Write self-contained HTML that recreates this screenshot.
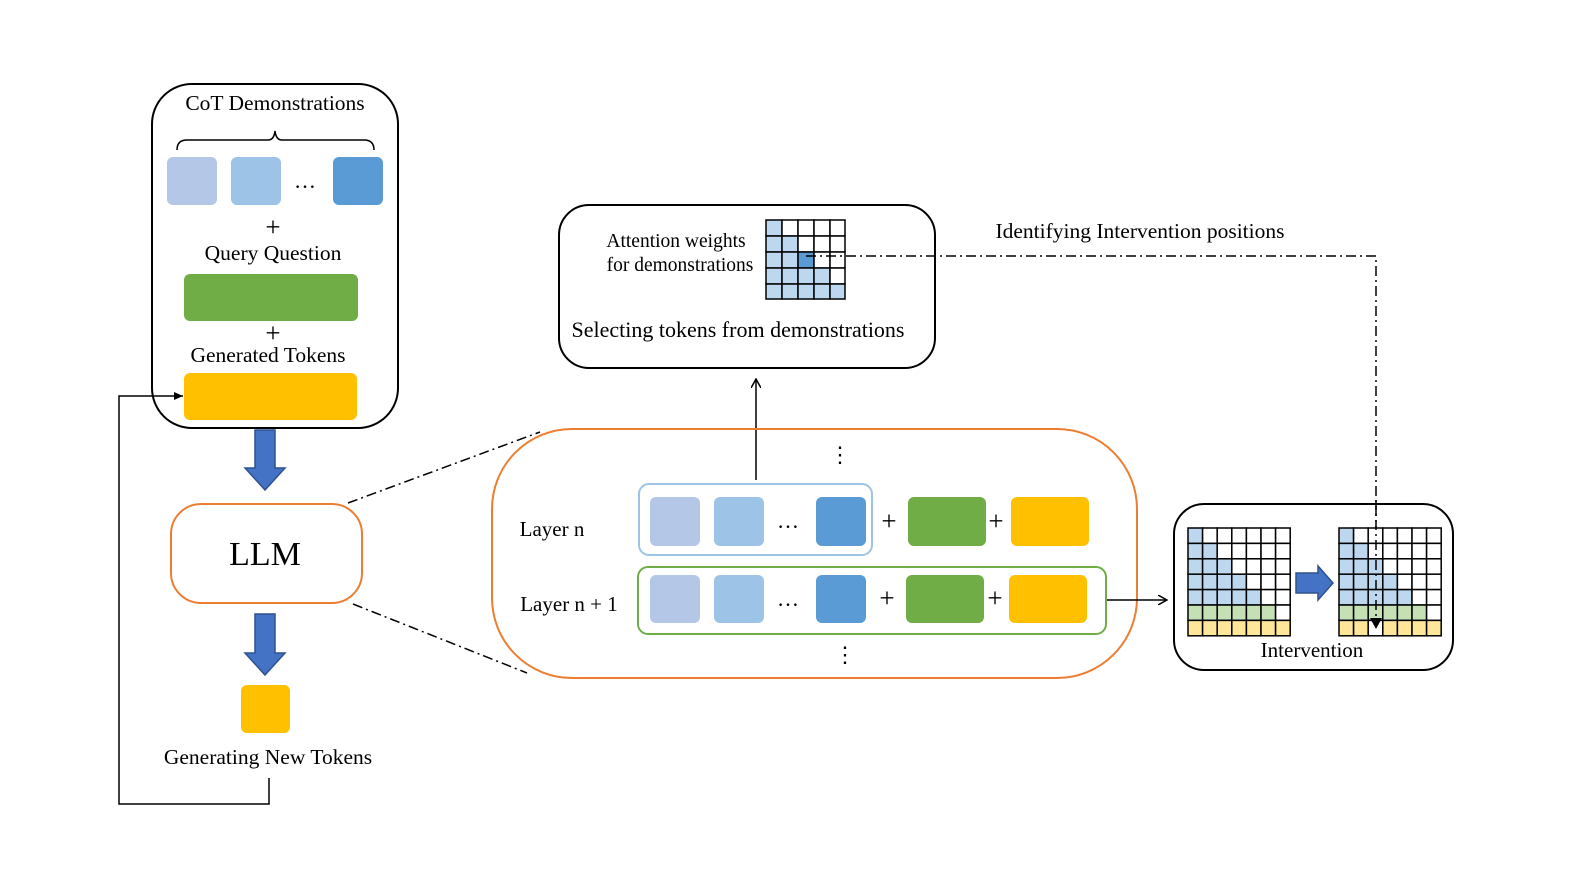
<!DOCTYPE html>
<html><head><meta charset="utf-8"><style>
body{margin:0;background:#fff}
svg text{font-family:"Liberation Serif",serif;fill:#000}
</style></head><body>
<svg width="1578" height="888" viewBox="0 0 1578 888" xmlns="http://www.w3.org/2000/svg">
<defs>
<marker id="ah" markerWidth="10" markerHeight="10" refX="9" refY="5" orient="auto" markerUnits="userSpaceOnUse"><path d="M0,0 L9,5 L0,10" fill="none" stroke="#000" stroke-width="1.5"/></marker>
<marker id="ahf" markerWidth="10" markerHeight="10" refX="9" refY="5" orient="auto" markerUnits="userSpaceOnUse"><path d="M0,1 L9,5 L0,9 Z" fill="#000"/></marker>
</defs>
<!-- CoT box -->
<rect x="152" y="84" width="246" height="344" rx="40" fill="none" stroke="#000" stroke-width="2"/>
<text x="275" y="110" font-size="21.5" text-anchor="middle">CoT Demonstrations</text>
<path d="M177,150 Q177,140 187,140 L268,140 Q274,140 275,131 Q276,140 282,140 L364,140 Q374,140 374,150" fill="none" stroke="#000" stroke-width="1.5"/>
<rect x="167" y="157" width="50" height="48" rx="6" fill="#b4c7e7"/>
<rect x="231" y="157" width="50" height="48" rx="6" fill="#9dc3e6"/>
<text x="305" y="188" font-size="22" text-anchor="middle">…</text>
<rect x="333" y="157" width="50" height="48" rx="6" fill="#5b9bd5"/>
<text x="273" y="236" font-size="27" text-anchor="middle">+</text>
<text x="273" y="260" font-size="21.5" text-anchor="middle">Query Question</text>
<rect x="184" y="274" width="174" height="47" rx="6" fill="#70ad47"/>
<text x="273" y="342" font-size="27" text-anchor="middle">+</text>
<text x="268" y="362" font-size="21.5" text-anchor="middle">Generated Tokens</text>
<rect x="184" y="373" width="173" height="47" rx="6" fill="#ffc000"/>
<!-- down arrows -->
<path d="M255,430 L275,430 L275,468 L285,468 L265,490 L245,468 L255,468 Z" fill="#4472c4" stroke="#2f528f" stroke-width="1.5"/>
<path d="M255,614 L275,614 L275,653 L285,653 L265,675 L245,653 L255,653 Z" fill="#4472c4" stroke="#2f528f" stroke-width="1.5"/>
<!-- LLM -->
<rect x="171" y="504" width="191" height="99" rx="30" fill="#fff" stroke="#ed7d31" stroke-width="2"/>
<text x="265" y="565" font-size="34" text-anchor="middle">LLM</text>
<rect x="241" y="685" width="49" height="48" rx="6" fill="#ffc000"/>
<text x="268" y="764" font-size="21.5" text-anchor="middle">Generating New Tokens</text>
<path d="M269,778 L269,804 L119,804 L119,396 L183,396" fill="none" stroke="#000" stroke-width="1.5" marker-end="url(#ahf)"/>
<!-- dash-dot zoom lines -->
<path d="M348,503 L540,432" stroke="#000" stroke-width="1.5" stroke-dasharray="10,4,2,4" fill="none"/>
<path d="M353,604 L527,673" stroke="#000" stroke-width="1.5" stroke-dasharray="10,4,2,4" fill="none"/>
<!-- attention box -->
<rect x="559" y="205" width="376" height="163" rx="30" fill="none" stroke="#000" stroke-width="2"/>
<text x="676" y="247" font-size="19.5" text-anchor="middle">Attention weights</text>
<text x="680" y="271" font-size="19.5" text-anchor="middle">for demonstrations</text>
<text x="738" y="337" font-size="22" text-anchor="middle">Selecting tokens from demonstrations</text>
<g stroke="#000" stroke-width="1.5">
<rect x="766" y="220" width="16" height="16" fill="#bdd7ee"/><rect x="782" y="220" width="16" height="16" fill="#fff"/><rect x="798" y="220" width="16" height="16" fill="#fff"/><rect x="814" y="220" width="16" height="16" fill="#fff"/><rect x="830" y="220" width="15" height="16" fill="#fff"/>
<rect x="766" y="236" width="16" height="16" fill="#bdd7ee"/><rect x="782" y="236" width="16" height="16" fill="#bdd7ee"/><rect x="798" y="236" width="16" height="16" fill="#fff"/><rect x="814" y="236" width="16" height="16" fill="#fff"/><rect x="830" y="236" width="15" height="16" fill="#fff"/>
<rect x="766" y="252" width="16" height="16" fill="#bdd7ee"/><rect x="782" y="252" width="16" height="16" fill="#bdd7ee"/><rect x="798" y="252" width="16" height="16" fill="#5b9bd5"/><rect x="814" y="252" width="16" height="16" fill="#fff"/><rect x="830" y="252" width="15" height="16" fill="#fff"/>
<rect x="766" y="268" width="16" height="16" fill="#bdd7ee"/><rect x="782" y="268" width="16" height="16" fill="#bdd7ee"/><rect x="798" y="268" width="16" height="16" fill="#bdd7ee"/><rect x="814" y="268" width="16" height="16" fill="#bdd7ee"/><rect x="830" y="268" width="15" height="16" fill="#fff"/>
<rect x="766" y="284" width="16" height="15" fill="#bdd7ee"/><rect x="782" y="284" width="16" height="15" fill="#bdd7ee"/><rect x="798" y="284" width="16" height="15" fill="#bdd7ee"/><rect x="814" y="284" width="16" height="15" fill="#bdd7ee"/><rect x="830" y="284" width="15" height="15" fill="#bdd7ee"/>
</g>
<text x="1140" y="238" font-size="21.5" text-anchor="middle">Identifying Intervention positions</text>
<path d="M806,256 L1376,256 L1376,624" fill="none" stroke="#000" stroke-width="1.5" stroke-dasharray="10,4,2,4"/>
<!-- up arrow -->
<path d="M756,480 L756,379" stroke="#000" stroke-width="1.5" marker-end="url(#ah)"/>
<!-- big orange box -->
<rect x="492" y="429" width="645" height="249" rx="80" fill="none" stroke="#ed7d31" stroke-width="2"/>
<text x="840" y="462" font-size="22" text-anchor="middle">⋮</text>
<text x="845" y="662" font-size="22" text-anchor="middle">⋮</text>
<text x="552" y="536" font-size="21" text-anchor="middle">Layer n</text>
<text x="569" y="611" font-size="21" text-anchor="middle">Layer n + 1</text>
<rect x="639" y="484" width="233" height="71" rx="10" fill="none" stroke="#9dc3e6" stroke-width="2"/>
<rect x="650" y="497" width="50" height="49" rx="6" fill="#b4c7e7"/>
<rect x="714" y="497" width="50" height="49" rx="6" fill="#9dc3e6"/>
<text x="788" y="528" font-size="22" text-anchor="middle">…</text>
<rect x="816" y="497" width="50" height="49" rx="6" fill="#5b9bd5"/>
<text x="889" y="530" font-size="27" text-anchor="middle">+</text>
<rect x="908" y="497" width="78" height="49" rx="6" fill="#70ad47"/>
<text x="996" y="530" font-size="27" text-anchor="middle">+</text>
<rect x="1011" y="497" width="78" height="49" rx="6" fill="#ffc000"/>
<rect x="638" y="567" width="468" height="67" rx="10" fill="none" stroke="#70ad47" stroke-width="2"/>
<rect x="650" y="575" width="50" height="48" rx="6" fill="#b4c7e7"/>
<rect x="714" y="575" width="50" height="48" rx="6" fill="#9dc3e6"/>
<text x="788" y="606" font-size="22" text-anchor="middle">…</text>
<rect x="816" y="575" width="50" height="48" rx="6" fill="#5b9bd5"/>
<text x="887" y="607" font-size="27" text-anchor="middle">+</text>
<rect x="906" y="575" width="78" height="48" rx="6" fill="#70ad47"/>
<text x="995" y="607" font-size="27" text-anchor="middle">+</text>
<rect x="1009" y="575" width="78" height="48" rx="6" fill="#ffc000"/>
<path d="M1107,600 L1167,600" stroke="#000" stroke-width="1.5" marker-end="url(#ah)"/>
<!-- intervention box -->
<rect x="1174" y="504" width="279" height="166" rx="30" fill="none" stroke="#000" stroke-width="2"/>
<text x="1312" y="657" font-size="21" text-anchor="middle">Intervention</text>
<path d="M1296,573 L1318,573 L1318,566 L1333,583 L1318,600 L1318,593 L1296,593 Z" fill="#4472c4" stroke="#2f528f" stroke-width="1.5"/>
<g stroke="#000" stroke-width="1.5">
<g transform="translate(1188,528)">
<rect x="0" y="0" width="14.6" height="15.4" fill="#bdd7ee"/><rect x="14.6" y="0" width="14.6" height="15.4" fill="#fff"/><rect x="29.2" y="0" width="14.6" height="15.4" fill="#fff"/><rect x="43.8" y="0" width="14.6" height="15.4" fill="#fff"/><rect x="58.4" y="0" width="14.6" height="15.4" fill="#fff"/><rect x="73" y="0" width="14.6" height="15.4" fill="#fff"/><rect x="87.6" y="0" width="14.6" height="15.4" fill="#fff"/>
<rect x="0" y="15.4" width="14.6" height="15.4" fill="#bdd7ee"/><rect x="14.6" y="15.4" width="14.6" height="15.4" fill="#bdd7ee"/><rect x="29.2" y="15.4" width="14.6" height="15.4" fill="#fff"/><rect x="43.8" y="15.4" width="14.6" height="15.4" fill="#fff"/><rect x="58.4" y="15.4" width="14.6" height="15.4" fill="#fff"/><rect x="73" y="15.4" width="14.6" height="15.4" fill="#fff"/><rect x="87.6" y="15.4" width="14.6" height="15.4" fill="#fff"/>
<rect x="0" y="30.8" width="14.6" height="15.4" fill="#bdd7ee"/><rect x="14.6" y="30.8" width="14.6" height="15.4" fill="#bdd7ee"/><rect x="29.2" y="30.8" width="14.6" height="15.4" fill="#bdd7ee"/><rect x="43.8" y="30.8" width="14.6" height="15.4" fill="#fff"/><rect x="58.4" y="30.8" width="14.6" height="15.4" fill="#fff"/><rect x="73" y="30.8" width="14.6" height="15.4" fill="#fff"/><rect x="87.6" y="30.8" width="14.6" height="15.4" fill="#fff"/>
<rect x="0" y="46.2" width="14.6" height="15.4" fill="#bdd7ee"/><rect x="14.6" y="46.2" width="14.6" height="15.4" fill="#bdd7ee"/><rect x="29.2" y="46.2" width="14.6" height="15.4" fill="#bdd7ee"/><rect x="43.8" y="46.2" width="14.6" height="15.4" fill="#bdd7ee"/><rect x="58.4" y="46.2" width="14.6" height="15.4" fill="#fff"/><rect x="73" y="46.2" width="14.6" height="15.4" fill="#fff"/><rect x="87.6" y="46.2" width="14.6" height="15.4" fill="#fff"/>
<rect x="0" y="61.6" width="14.6" height="15.4" fill="#bdd7ee"/><rect x="14.6" y="61.6" width="14.6" height="15.4" fill="#bdd7ee"/><rect x="29.2" y="61.6" width="14.6" height="15.4" fill="#bdd7ee"/><rect x="43.8" y="61.6" width="14.6" height="15.4" fill="#bdd7ee"/><rect x="58.4" y="61.6" width="14.6" height="15.4" fill="#bdd7ee"/><rect x="73" y="61.6" width="14.6" height="15.4" fill="#fff"/><rect x="87.6" y="61.6" width="14.6" height="15.4" fill="#fff"/>
<rect x="0" y="77" width="14.6" height="15.4" fill="#c5e0b4"/><rect x="14.6" y="77" width="14.6" height="15.4" fill="#c5e0b4"/><rect x="29.2" y="77" width="14.6" height="15.4" fill="#c5e0b4"/><rect x="43.8" y="77" width="14.6" height="15.4" fill="#c5e0b4"/><rect x="58.4" y="77" width="14.6" height="15.4" fill="#c5e0b4"/><rect x="73" y="77" width="14.6" height="15.4" fill="#c5e0b4"/><rect x="87.6" y="77" width="14.6" height="15.4" fill="#fff"/>
<rect x="0" y="92.4" width="14.6" height="15.4" fill="#ffe699"/><rect x="14.6" y="92.4" width="14.6" height="15.4" fill="#ffe699"/><rect x="29.2" y="92.4" width="14.6" height="15.4" fill="#ffe699"/><rect x="43.8" y="92.4" width="14.6" height="15.4" fill="#ffe699"/><rect x="58.4" y="92.4" width="14.6" height="15.4" fill="#ffe699"/><rect x="73" y="92.4" width="14.6" height="15.4" fill="#ffe699"/><rect x="87.6" y="92.4" width="14.6" height="15.4" fill="#ffe699"/>
</g>
<g transform="translate(1339,528)">
<rect x="0" y="0" width="14.6" height="15.4" fill="#bdd7ee"/><rect x="14.6" y="0" width="14.6" height="15.4" fill="#fff"/><rect x="29.2" y="0" width="14.6" height="15.4" fill="#fff"/><rect x="43.8" y="0" width="14.6" height="15.4" fill="#fff"/><rect x="58.4" y="0" width="14.6" height="15.4" fill="#fff"/><rect x="73" y="0" width="14.6" height="15.4" fill="#fff"/><rect x="87.6" y="0" width="14.6" height="15.4" fill="#fff"/>
<rect x="0" y="15.4" width="14.6" height="15.4" fill="#bdd7ee"/><rect x="14.6" y="15.4" width="14.6" height="15.4" fill="#bdd7ee"/><rect x="29.2" y="15.4" width="14.6" height="15.4" fill="#fff"/><rect x="43.8" y="15.4" width="14.6" height="15.4" fill="#fff"/><rect x="58.4" y="15.4" width="14.6" height="15.4" fill="#fff"/><rect x="73" y="15.4" width="14.6" height="15.4" fill="#fff"/><rect x="87.6" y="15.4" width="14.6" height="15.4" fill="#fff"/>
<rect x="0" y="30.8" width="14.6" height="15.4" fill="#bdd7ee"/><rect x="14.6" y="30.8" width="14.6" height="15.4" fill="#bdd7ee"/><rect x="29.2" y="30.8" width="14.6" height="15.4" fill="#bdd7ee"/><rect x="43.8" y="30.8" width="14.6" height="15.4" fill="#fff"/><rect x="58.4" y="30.8" width="14.6" height="15.4" fill="#fff"/><rect x="73" y="30.8" width="14.6" height="15.4" fill="#fff"/><rect x="87.6" y="30.8" width="14.6" height="15.4" fill="#fff"/>
<rect x="0" y="46.2" width="14.6" height="15.4" fill="#bdd7ee"/><rect x="14.6" y="46.2" width="14.6" height="15.4" fill="#bdd7ee"/><rect x="29.2" y="46.2" width="14.6" height="15.4" fill="#bdd7ee"/><rect x="43.8" y="46.2" width="14.6" height="15.4" fill="#bdd7ee"/><rect x="58.4" y="46.2" width="14.6" height="15.4" fill="#fff"/><rect x="73" y="46.2" width="14.6" height="15.4" fill="#fff"/><rect x="87.6" y="46.2" width="14.6" height="15.4" fill="#fff"/>
<rect x="0" y="61.6" width="14.6" height="15.4" fill="#bdd7ee"/><rect x="14.6" y="61.6" width="14.6" height="15.4" fill="#bdd7ee"/><rect x="29.2" y="61.6" width="14.6" height="15.4" fill="#bdd7ee"/><rect x="43.8" y="61.6" width="14.6" height="15.4" fill="#bdd7ee"/><rect x="58.4" y="61.6" width="14.6" height="15.4" fill="#bdd7ee"/><rect x="73" y="61.6" width="14.6" height="15.4" fill="#fff"/><rect x="87.6" y="61.6" width="14.6" height="15.4" fill="#fff"/>
<rect x="0" y="77" width="14.6" height="15.4" fill="#c5e0b4"/><rect x="14.6" y="77" width="14.6" height="15.4" fill="#c5e0b4"/><rect x="29.2" y="77" width="14.6" height="15.4" fill="#c5e0b4"/><rect x="43.8" y="77" width="14.6" height="15.4" fill="#c5e0b4"/><rect x="58.4" y="77" width="14.6" height="15.4" fill="#c5e0b4"/><rect x="73" y="77" width="14.6" height="15.4" fill="#c5e0b4"/><rect x="87.6" y="77" width="14.6" height="15.4" fill="#fff"/>
<rect x="0" y="92.4" width="14.6" height="15.4" fill="#ffe699"/><rect x="14.6" y="92.4" width="14.6" height="15.4" fill="#ffe699"/><rect x="29.2" y="92.4" width="14.6" height="15.4" fill="#fff"/><rect x="43.8" y="92.4" width="14.6" height="15.4" fill="#ffe699"/><rect x="58.4" y="92.4" width="14.6" height="15.4" fill="#ffe699"/><rect x="73" y="92.4" width="14.6" height="15.4" fill="#ffe699"/><rect x="87.6" y="92.4" width="14.6" height="15.4" fill="#ffe699"/>
</g>
</g>
<path d="M1376,500 L1376,624" fill="none" stroke="#000" stroke-width="1.5" stroke-dasharray="10,4,2,4"/>
<path d="M1370,618 L1382,618 L1376,629 Z" fill="#000"/>
</svg>
</body></html>
